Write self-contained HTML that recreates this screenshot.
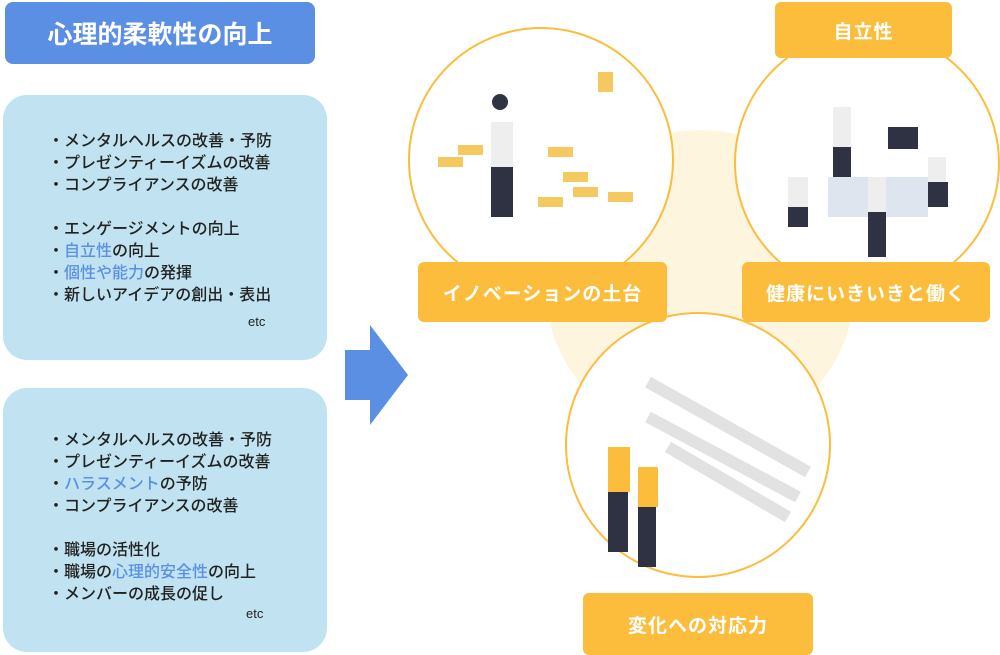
<!DOCTYPE html>
<html><head><meta charset="utf-8"><style>
body{margin:0;width:1000px;height:655px;background:#fff;position:relative;overflow:hidden;font-family:"Liberation Sans","Noto Sans CJK JP",sans-serif}
.a{position:absolute}
.title{left:5px;top:2px;width:310px;height:62px;background:#5b8fe3;border-radius:8px;color:#fff;font-size:25px;font-weight:bold;display:flex;align-items:center;justify-content:center}
.box{left:3px;width:324px;background:#c1e3f1;border-radius:24px}
.t{position:absolute;left:45px;font-size:16px;color:#222;line-height:22px;font-weight:500}
.b{color:#5b8fe3}
.etc{position:absolute;font-size:13px;color:#222}
.lab{background:#fbbd3b;color:#fff;font-weight:bold;font-size:19px;border-radius:6px;display:flex;align-items:center;justify-content:center;letter-spacing:1px}
.c{border:2.5px solid #fbbd3b;border-radius:50%;background:#fff;box-sizing:border-box}
</style></head><body>
<div class="a title">心理的柔軟性の向上</div>
<div class="a box" style="top:95px;height:265px">
<div class="t" style="top:36px">・メンタルヘルスの改善・予防<br>・プレゼンティーイズムの改善<br>・コンプライアンスの改善<br><br>・エンゲージメントの向上<br>・<span class="b">自立性</span>の向上<br>・<span class="b">個性や能力</span>の発揮<br>・新しいアイデアの創出・表出</div>
<div class="etc" style="left:245px;top:219px">etc</div>
</div>
<div class="a box" style="top:388px;height:264px">
<div class="t" style="top:42px">・メンタルヘルスの改善・予防<br>・プレゼンティーイズムの改善<br>・<span class="b">ハラスメント</span>の予防<br>・コンプライアンスの改善<br><br>・職場の活性化<br>・職場の<span class="b">心理的安全性</span>の向上<br>・メンバーの成長の促し</div>
<div class="etc" style="left:243px;top:218px">etc</div>
</div>
<svg class="a" style="left:340px;top:320px" width="72" height="110"><polygon points="5,30 30,30 30,5 68,55 30,105 30,80 5,80" fill="#5b8fe3"/></svg>
<div class="a" style="left:545px;top:130px;width:310px;height:310px;border-radius:50%;background:#fef5df"></div>
<div class="a c" style="left:408px;top:27px;width:266px;height:266px"></div>
<div class="a c" style="left:734px;top:30px;width:266px;height:266px"></div>
<div class="a c" style="left:565px;top:312px;width:266px;height:266px"></div>
<svg class="a" style="left:408px;top:27px" width="600" height="560">
<g fill="#f5c860"><rect x="30" y="130" width="25" height="10"/><rect x="50" y="118" width="25" height="10"/><rect x="140" y="120" width="25" height="10"/><rect x="155" y="145" width="25" height="10"/><rect x="165" y="160" width="25" height="10"/><rect x="200" y="165" width="25" height="10"/><rect x="130" y="170" width="25" height="10"/><rect x="190" y="45" width="15" height="20"/></g>
<rect x="83" y="95" width="22" height="45" fill="#eee"/><rect x="83" y="140" width="22" height="50" fill="#2e3243"/><circle cx="92" cy="75" r="8" fill="#2e3243"/>
<rect x="425" y="80" width="18" height="40" fill="#eee"/><rect x="425" y="120" width="18" height="45" fill="#2e3243"/>
<rect x="420" y="150" width="100" height="40" fill="#dfe5ee"/><rect x="480" y="100" width="30" height="22" fill="#2e3243"/>
<rect x="380" y="150" width="20" height="30" fill="#eee"/><rect x="380" y="180" width="20" height="20" fill="#2e3243"/>
<rect x="460" y="150" width="18" height="35" fill="#eee"/><rect x="460" y="185" width="18" height="45" fill="#2e3243"/>
<rect x="520" y="130" width="18" height="30" fill="#eee"/><rect x="520" y="155" width="20" height="25" fill="#2e3243"/>
<path d="M240 355 L400 445 M240 390 L390 470 M260 420 L380 490" stroke="#e2e2e2" stroke-width="12" fill="none"/>
<rect x="200" y="420" width="22" height="45" fill="#fbbd3b"/><rect x="200" y="465" width="20" height="60" fill="#2e3243"/>
<rect x="230" y="440" width="20" height="40" fill="#fbbd3b"/><rect x="230" y="480" width="18" height="60" fill="#2e3243"/>
</svg>
<div class="a lab" style="left:418px;top:262px;width:249px;height:60px">イノベーションの土台</div>
<div class="a lab" style="left:742px;top:262px;width:248px;height:60px">健康にいきいきと働く</div>
<div class="a lab" style="left:775px;top:2px;width:177px;height:56px">自立性</div>
<div class="a lab" style="left:583px;top:593px;width:230px;height:62px">変化への対応力</div>
</body></html>
